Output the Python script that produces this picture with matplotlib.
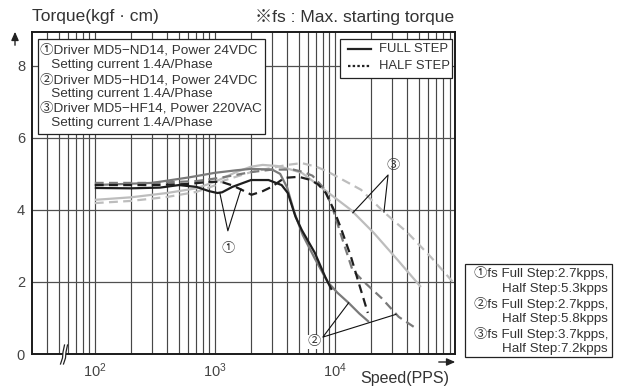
import matplotlib
matplotlib.use("Agg")
import matplotlib.pyplot as plt
from matplotlib.patches import Rectangle, Polygon
from matplotlib.lines import Line2D

plt.rcParams['font.family'] = ['Liberation Sans', 'Noto Sans CJK KR', 'DejaVu Sans']
plt.rcParams['mathtext.fontset'] = 'custom'
plt.rcParams['mathtext.rm'] = 'Liberation Sans'

# ---- torque curves: speed (pps) vs torque (kgf·cm) ----
nd14_full_pps = [100, 200, 350, 500, 700, 900, 1050, 1150, 1400, 2000, 2800, 3600, 4050, 4700, 5300, 6800, 8300, 9400]
nd14_full_trq = [4.61, 4.60, 4.62, 4.69, 4.64, 4.52, 4.47, 4.49, 4.64, 4.83, 4.83, 4.69, 4.47, 3.81, 3.44, 2.81, 2.14, 1.78]

nd14_half_pps = [100, 300, 600, 900, 1130, 1400, 1670, 2020, 2500, 2970, 3800, 5000, 6300, 7300, 8400, 9800, 11200, 13600, 15500, 18800]
nd14_half_trq = [4.69, 4.69, 4.72, 4.78, 4.78, 4.68, 4.56, 4.42, 4.52, 4.64, 4.89, 4.92, 4.83, 4.70, 4.47, 4.00, 3.50, 2.70, 2.06, 1.14]

hd14_full_pps = [100, 300, 600, 1000, 1500, 2000, 3000, 3500, 4000, 4600, 5400, 6800, 8700, 10500, 13000, 16000, 19200]
hd14_full_trq = [4.69, 4.75, 4.90, 5.03, 5.10, 5.14, 5.12, 5.00, 4.62, 3.92, 3.30, 2.65, 2.00, 1.70, 1.42, 1.12, 0.89]

hd14_half_pps = [100, 300, 700, 1100, 2000, 3000, 4500, 5500, 6500, 8100, 9500, 11500, 14000, 17500, 24500, 34000, 47000]
hd14_half_trq = [4.75, 4.75, 4.80, 4.89, 5.05, 5.12, 5.12, 5.05, 4.95, 4.60, 4.08, 3.20, 2.33, 2.00, 1.55, 1.03, 0.72]

hf14_full_pps = [100, 200, 400, 700, 1000, 1500, 2000, 2500, 3300, 4300, 5300, 7600, 13600, 21100, 33500, 52000]
hf14_full_trq = [4.28, 4.35, 4.47, 4.60, 4.78, 5.05, 5.20, 5.25, 5.22, 5.12, 5.03, 4.64, 4.00, 3.36, 2.60, 1.86]

hf14_half_pps = [100, 200, 400, 700, 1000, 1200, 2000, 3000, 4000, 5300, 7000, 8750, 16500, 25600, 40500, 63000, 96000]
hf14_half_trq = [4.19, 4.25, 4.36, 4.50, 4.68, 4.82, 5.05, 5.17, 5.25, 5.30, 5.20, 5.06, 4.56, 3.94, 3.36, 2.69, 2.00]

y_ticks = [0, 2, 4, 6, 8]
x_ticks = [100, 1000, 10000]
x_tick_labels = [r'$\mathregular{10^{2}}$', r'$\mathregular{10^{3}}$', r'$\mathregular{10^{4}}$']

driver_lines = ["①Driver MD5−ND14, Power 24VDC", "   Setting current 1.4A/Phase",
                "②Driver MD5−HD14, Power 24VDC", "   Setting current 1.4A/Phase",
                "③Driver MD5−HF14, Power 220VAC", "   Setting current 1.4A/Phase"]
fs_lines = ["①fs Full Step:2.7kpps,", "Half Step:5.3kpps",
            "②fs Full Step:2.7kpps,", "Half Step:5.8kpps",
            "③fs Full Step:3.7kpps,", "Half Step:7.2kpps"]

C_BLACK, C_MID, C_LIGHT = '#1e1e1e', '#7a7a7a', '#bdbdbd'
TXT = '#333333'

W, H = 622, 388
fig = plt.figure(figsize=(W / 100, H / 100), dpi=100)
ax = fig.add_axes([32 / W, 1 - 354 / H, 423 / W, 322 / H])
ax.set_xscale('log')
ax.set_xlim(30, 1e5)
ax.set_ylim(0, 8.94)

def fx(px):
    return px / W

def fy(py):
    return 1 - py / H

def ax_x(px):
    return (px - 32) / 423

def ax_y(py):
    return (354 - py) / 322

# log grid
grid_x = [m * 10 ** e for e in (1, 2, 3, 4) for m in range(1, 10) if m * 10 ** e >= 40]
for gx in grid_x:
    ax.axvline(gx, color='#474747', lw=0.85, zorder=1)
for gy in [2, 4, 6, 8]:
    ax.axhline(gy, color='#505050', lw=0.9, zorder=1)

for s in ax.spines.values():
    s.set_color('#1a1a1a')
    s.set_linewidth(1.4)

ax.set_xticks(x_ticks, x_tick_labels)
ax.xaxis.set_minor_locator(matplotlib.ticker.NullLocator())
ax.set_yticks(y_ticks, [str(v) for v in y_ticks])
ax.tick_params(axis='both', length=0, labelsize=10.5, labelcolor='#444444')
ax.tick_params(axis='x', pad=5)
ax.tick_params(axis='y', pad=5)

lw = 1.6
dash = (4, 2.4)
ax.plot(hf14_full_pps, hf14_full_trq, color=C_LIGHT, lw=lw, zorder=3, solid_capstyle='butt')
ax.plot(hf14_half_pps, hf14_half_trq, color=C_LIGHT, lw=lw, dashes=dash, zorder=3)
ax.plot(hd14_half_pps, hd14_half_trq, color=C_MID, lw=lw, dashes=dash, zorder=4)
ax.plot(hd14_full_pps, hd14_full_trq, color=C_MID, lw=lw, zorder=4, solid_capstyle='butt')
ax.plot(nd14_half_pps, nd14_half_trq, color=C_BLACK, lw=lw, dashes=dash, zorder=5)
ax.plot(nd14_full_pps, nd14_full_trq, color=C_BLACK, lw=lw, zorder=5, solid_capstyle='butt')

# curve callouts
ann_kw = dict(color='#111111', lw=0.8, zorder=6)
ax.plot([1100, 1283, 1650], [4.47, 3.42, 4.58], **ann_kw)
ax.text(1300, 2.92, '①', ha='center', va='center', fontsize=9.5, color=TXT, zorder=7)
ax.plot([13000, 7940, 32200], [1.42, 0.47, 1.10], **ann_kw)
ax.text(6690, 0.33, '②', ha='center', va='center', fontsize=9.5, color=TXT, zorder=7,
        bbox=dict(boxstyle='square,pad=0.1', fc='white', ec='none'))
ax.plot([14100, 27700, 25600], [3.92, 4.97, 3.94], **ann_kw)
ax.text(30400, 5.22, '③', ha='center', va='center', fontsize=9.5, color=TXT, zorder=7)

# driver info box
ax.add_patch(Rectangle((ax_x(38), ax_y(134)), ax_x(265) - ax_x(38), ax_y(39) - ax_y(134),
                       transform=ax.transAxes, fc='white', ec='#222222', lw=0.9, zorder=8))
for line, py in zip(driver_lines, [50, 65, 80, 94, 108, 123]):
    ax.text(ax_x(40), ax_y(py), line, transform=ax.transAxes, ha='left', va='center',
            fontsize=9.7, color=TXT, zorder=9)

# line style key
ax.add_patch(Rectangle((ax_x(340), ax_y(78)), ax_x(452) - ax_x(340), ax_y(39) - ax_y(78),
                       transform=ax.transAxes, fc='white', ec='#222222', lw=0.9, zorder=8))
ax.add_line(Line2D([ax_x(348), ax_x(371)], [ax_y(49), ax_y(49)], transform=ax.transAxes,
                   color='#222222', lw=1.6, zorder=9))
ax.add_line(Line2D([ax_x(348), ax_x(371)], [ax_y(66), ax_y(66)], transform=ax.transAxes,
                   color='#222222', lw=1.6, dashes=(1.1, 1.0), zorder=9))
ax.text(ax_x(379), ax_y(49), 'FULL STEP', transform=ax.transAxes, ha='left', va='center',
        fontsize=9.4, color=TXT, zorder=9)
ax.text(ax_x(379), ax_y(66), 'HALF STEP', transform=ax.transAxes, ha='left', va='center',
        fontsize=9.4, color=TXT, zorder=9)

# axis break mark on the bottom spine
brk = [(60.5, 364), (62.5, 358), (63.0, 352), (64.5, 345), (67.5, 345), (66.0, 352), (65.5, 358), (63.5, 364)]
fig.add_artist(Polygon([(fx(a), fy(b)) for a, b in brk], closed=True, fc='white', ec='none',
                       transform=fig.transFigure, zorder=10))
for off in (0, 3):
    fig.add_artist(Line2D([fx(60.5 + off), fx(62.5 + off), fx(63.0 + off), fx(64.5 + off)],
                          [fy(364), fy(358), fy(352), fy(345)], color='#222222', lw=0.9,
                          transform=fig.transFigure, zorder=11))

# titles and axis arrows
fig.text(fx(32), fy(17), 'Torque(kgf · cm)', ha='left', va='center', fontsize=12.5, color=TXT)
fig.text(fx(255), fy(17), '※fs : Max. starting torque', ha='left', va='center', fontsize=12.5, color=TXT)
fig.text(fx(360), fy(378), 'Speed(PPS)', ha='left', va='center', fontsize=11.5, color=TXT)
fig.add_artist(matplotlib.patches.FancyArrowPatch((fx(15), fy(48)), (fx(15), fy(29)),
               transform=fig.transFigure, arrowstyle='-|>,head_length=5,head_width=2.2',
               color='#222222', lw=1.0, mutation_scale=1))
fig.add_artist(matplotlib.patches.FancyArrowPatch((fx(436), fy(362)), (fx(458), fy(362)),
               transform=fig.transFigure, arrowstyle='-|>,head_length=5,head_width=2.2',
               color='#222222', lw=1.0, mutation_scale=1))

# fs summary box
fig.add_artist(Rectangle((fx(465), fy(357)), fx(612) - fx(465), fy(264) - fy(357),
                         transform=fig.transFigure, fc='white', ec='#222222', lw=0.9))
for line, py in zip(fs_lines, [273, 289, 304, 319, 334, 349]):
    fig.text(fx(608), fy(py), line, ha='right', va='center', fontsize=9.6, color=TXT)

fig.savefig('out.png', dpi=100)
